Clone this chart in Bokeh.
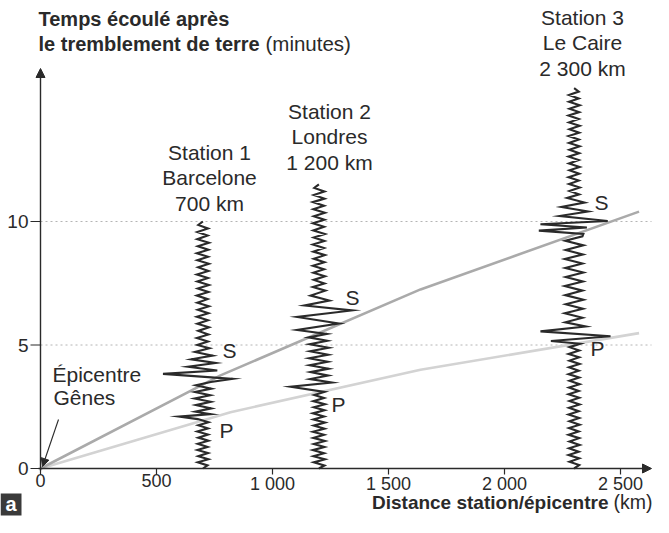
import numpy as np
from bokeh.plotting import figure
from bokeh.models import Range1d, Arrow, NormalHead
from bokeh.core.properties import value
from bokeh.embed import file_html
from bokeh.resources import INLINE

# ---------------- data ----------------
X_TICKS = [0, 500, 1000, 1500, 2000, 2500]
X_TICK_LABELS = ["0", "500", "1 000", "1 500", "2 000", "2 500"]
Y_TICKS = [0, 5, 10]
Y_TICK_LABELS = ["0", "5", "10"]
GUIDE_TIMES = [5, 10]

STATION_NAMES = ["Station 1", "Station 2", "Station 3"]
STATION_CITIES = ["Barcelone", "Londres", "Le Caire"]
STATION_DIST = [700, 1200, 2300]
STATION_DIST_LABELS = ["700 km", "1 200 km", "2 300 km"]

# travel-time curves (distance km, time min)
S_CURVE_KM = [0, 776, 1638, 2580]
S_CURVE_MIN = [0, 3.77, 7.25, 10.4]
P_CURVE_KM = [0, 819, 1638, 2580]
P_CURVE_MIN = [0, 2.28, 4.0, 5.48]

# seismogram traces: blocks of (start min, end min, horizontal swings in km)
TRACE_1 = [
    (0.00, 2.00, [0, 20, -22, 24, -20, 22, -24, 20, -22, 24, -20, 22, -24, 22, -20, 24, -22]),
    (2.10, 2.20, [-102, 34]),
    (2.30, 3.50, [-32, 36, -30, 34, -36, 32, -34, 36, -30, 34]),
    (3.63, 3.83, [128, -172]),
    (3.97, 4.87, [62, -64, 55, -50, 42, -34, 28]),
    (5.00, 10.00, [-24, 22, -26, 24, -20, 26, -24, 22, -26, 24, -22, 26, -24, 20, -26, 24, -22, 26,
                   -24, 22, -26, 24, -20, 26, -24, 22, -26, 24, -22, 26, -24, 20, -24, 22, -20, 0]),
]
TRACE_2 = [
    (0.00, 3.10, [0, 24, -22, 26, -24, 22, -26, 24, -22, 26, -24, 22, -26, 24, -22, 26, -24, 22,
                  -26, 24, -22, 26, -24, 22, -20, 24]),
    (3.31, 3.48, [-122, 56]),
    (3.62, 5.45, [-38, 40, -36, 42, -40, 38, -42, 40, -38, 42, -40, 36, -44, 34]),
    (5.61, 6.40, [-94, 86, -94, 143]),
    (6.60, 7.20, [-62, 45, -36, 28]),
    (7.35, 11.50, [-26, 24, -22, 26, -24, 22, -26, 24, -22, 26, -24, 22, -26, 24, -22, 26, -24, 22,
                   -26, 24, -22, 26, -24, 22, -26, 24, -22, 24, -20, 0]),
]
TRACE_3 = [
    (0.00, 5.05, [0, 22, -20, 22, -24, 20, -22, 24, -20, 22, -24, 20, -22, 24, -20, 22, -24, 20, -22,
                  24, -20, 22, -24, 20, -22, 24, -20, 22, -24, 20, -22, 24, -20, 22, -24, 22, -20, 26]),
    (5.16, 5.75, [-100, 157, -145, 50]),
    (5.92, 9.40, [-38, 36, -40, 38, -36, 40, -38, 36, -40, 38, -36, 40, -38, 36, -40, 38, -36, 40, -38, 36]),
    (9.50, 10.02, [40, -152, 55, -145, 145]),
    (10.22, 10.95, [-62, 60, -55, 45, -30]),
    (11.10, 15.40, [22, -20, 24, -22, 20, -24, 22, -20, 24, -22, 20, -24, 22, -20, 24, -22, 20, -24,
                    22, -20, 24, -22, 20, -24, 22, -20, 24, -22, 20, -22, 20, 0]),
]
TRACES = [TRACE_1, TRACE_2, TRACE_3]

# ---------------- layout helpers (picture pixels -> data units) ----------------
KM_PER_PX = 1 / 0.232
MIN_PER_PX = 1 / 24.7
ORIGIN_PX, ORIGIN_PY = 40.0, 468.0


def kx(px):
    return (px - ORIGIN_PX) * KM_PER_PX


def my(py):
    return (ORIGIN_PY - py) * MIN_PER_PX


W, H = 653, 517
FONT = "Liberation Sans"
INK = "#2a2a2a"

p = figure(width=W, height=H, output_backend="svg", toolbar_location=None,
           x_range=Range1d(kx(0), kx(W)), y_range=Range1d(my(H), my(0)),
           x_axis_location=None, y_axis_location=None, min_border=0)
p.outline_line_color = None
p.grid.visible = False
p.background_fill_color = "white"
p.border_fill_color = "white"

X_END = kx(651)
Y_END = my(68)

# dotted guides
for g in GUIDE_TIMES:
    p.line([0, X_END], [g, g], line_color="#b4b4b4", line_width=1, line_dash="2 3")

# travel-time curves
p.line(P_CURVE_KM, P_CURVE_MIN, line_color="#d3d3d3", line_width=2.6)
p.line(S_CURVE_KM, S_CURVE_MIN, line_color="#aaaaaa", line_width=2.6)

# seismograms
for dist, blocks in zip(STATION_DIST, TRACES):
    ts, xs = [], []
    for t0, t1, swings in blocks:
        ts.extend(np.linspace(t0, t1, len(swings)).tolist())
        xs.extend([dist + s for s in swings])
    p.line(xs, ts, line_color=INK, line_width=2.1, line_join="miter")

# axes
p.add_layout(Arrow(end=NormalHead(size=9, fill_color=INK, line_color=INK),
                   x_start=kx(38), y_start=0, x_end=X_END, y_end=0, line_color=INK, line_width=1.4))
p.add_layout(Arrow(end=NormalHead(size=9, fill_color=INK, line_color=INK),
                   x_start=0, y_start=my(470), x_end=0, y_end=Y_END, line_color=INK, line_width=1.4))

# ticks
p.segment(x0=X_TICKS, y0=[0] * len(X_TICKS), x1=X_TICKS, y1=[my(474)] * len(X_TICKS),
          line_color=INK, line_width=1.2)
p.segment(x0=[kx(30)] * len(Y_TICKS), y0=Y_TICKS, x1=[0] * len(Y_TICKS), y1=Y_TICKS,
          line_color=INK, line_width=1.2)

p.text(x=X_TICKS, y=[my(473)] * len(X_TICKS), text=X_TICK_LABELS, text_font=value(FONT),
       text_font_size="18px", text_align="center", text_baseline="top", text_color=INK)
p.text(x=[kx(28)] * len(Y_TICKS), y=Y_TICKS, text=Y_TICK_LABELS, text_font=value(FONT),
       text_font_size="19px", text_align="right", text_baseline="middle", text_color=INK)

# axis titles
p.text(x=[kx(38)], y=[my(29)], text=["Temps écoulé après"], text_font=value(FONT),
       text_font_size="20px", text_font_style="bold", text_color=INK)
p.text(x=[kx(38)], y=[my(54)], text=["le tremblement de terre"], text_font=value(FONT),
       text_font_size="20px", text_font_style="bold", text_color=INK)
p.text(x=[kx(265)], y=[my(54)], text=["(minutes)"], text_font=value(FONT),
       text_font_size="20.5px", text_color=INK)
p.text(x=[kx(608)], y=[my(512)], text=["Distance station/épicentre"], text_font=value(FONT),
       text_font_size="19px", text_font_style="bold", text_align="right", text_color=INK)
p.text(x=[kx(652)], y=[my(512)], text=["(km)"], text_font=value(FONT),
       text_font_size="19.5px", text_align="right", text_color=INK)

# station labels
label_cx = [kx(209), kx(329), kx(582)]
label_base = [my(163), my(122), my(28)]
line_step = 25.5 * MIN_PER_PX
for cx, b, n, c, d in zip(label_cx, label_base, STATION_NAMES, STATION_CITIES, STATION_DIST_LABELS):
    p.text(x=[cx] * 3, y=[b, b - line_step, b - 2 * line_step], text=[n, c, d],
           text_font=value(FONT), text_font_size="21px", text_align="center", text_color=INK)

# S / P wave labels
p.text(x=[kx(229), kx(352), kx(601)], y=[my(350), my(297), my(202)], text=["S"] * 3,
       text_font=value(FONT), text_font_size="21px", text_align="center",
       text_baseline="middle", text_color=INK)
p.text(x=[kx(226), kx(338), kx(597)], y=[my(430), my(404), my(348)], text=["P"] * 3,
       text_font=value(FONT), text_font_size="21px", text_align="center",
       text_baseline="middle", text_color=INK)

# epicentre
p.text(x=[kx(52), kx(53)], y=[my(385), my(408)], text=["Épicentre", "Gênes"],
       text_font=value(FONT), text_font_size="21px", text_color=INK)
p.add_layout(Arrow(end=NormalHead(size=8, fill_color=INK, line_color=INK),
                   x_start=kx(58), y_start=my(419), x_end=kx(42), y_end=my(466),
                   line_color=INK, line_width=1.1))

# panel tag "a"
p.quad(left=[kx(0)], right=[kx(21)], top=[my(493)], bottom=[my(515)], fill_color="#3a3a3a",
       line_color=None)
p.text(x=[kx(10.5)], y=[my(503.5)], text=["a"], text_font=value(FONT), text_font_size="20px",
       text_font_style="bold", text_align="center", text_baseline="middle", text_color="white")

open("out.html", "w").write(file_html(p, INLINE))
